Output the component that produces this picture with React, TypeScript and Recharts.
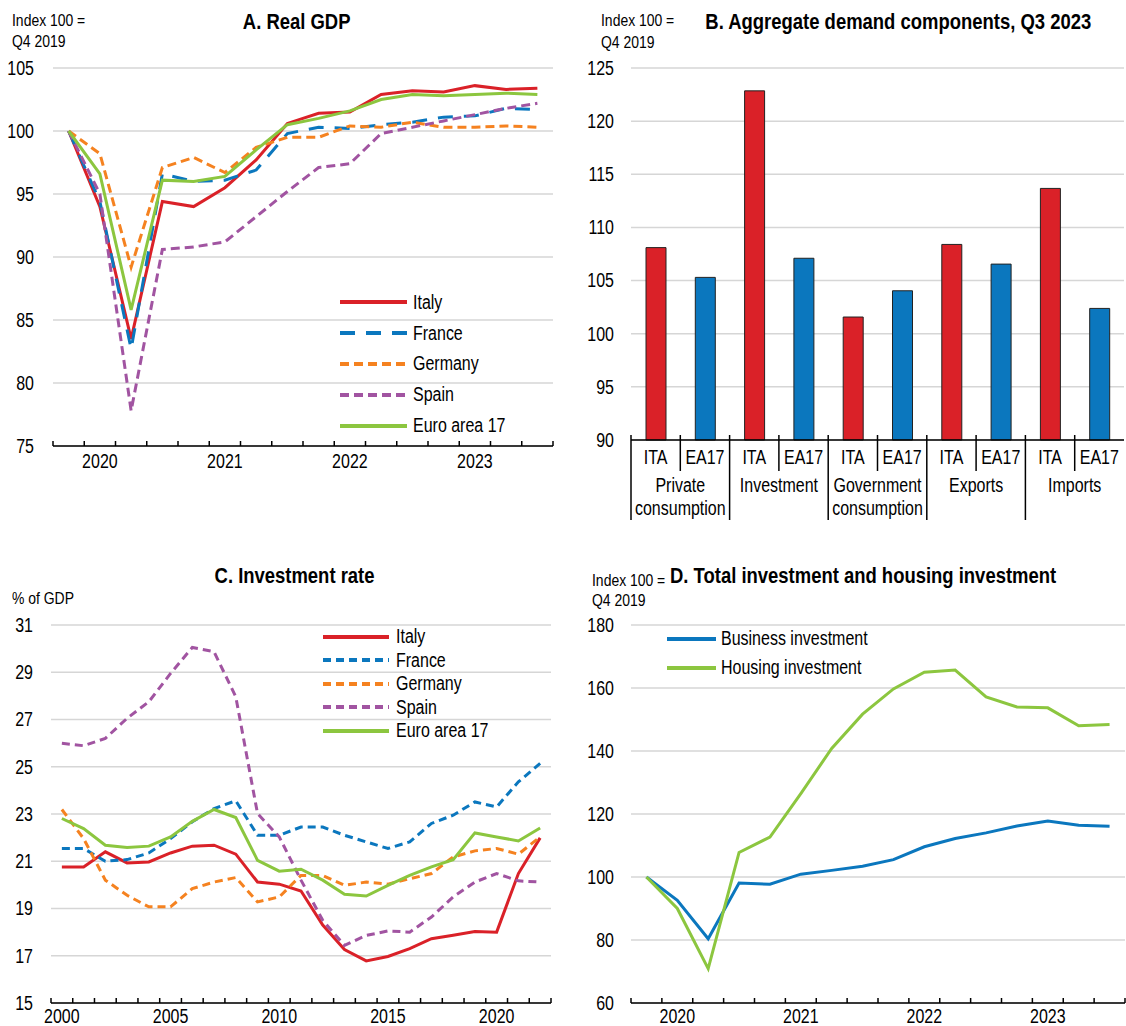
import React from 'react'
import { Bar, BarChart, CartesianGrid, Cell, Legend, Line, LineChart, XAxis, YAxis } from 'recharts'

// No Arial Narrow here: Liberation Sans squeezed horizontally gives the same look
const FONT = "'Liberation Sans', Arial, sans-serif"
const SQUEEZE = 0.82
const RED = '#DA2128'
const BLUE = '#0B77BE'
const ORANGE = '#F58220'
const PURPLE = '#A154A1'
const GREEN = '#8CC63F'
const GRID = '#D6D6D6'

// Panel A and D: quarters
const quarters = [
	'Q4 2019', 'Q1 2020', 'Q2 2020', 'Q3 2020', 'Q4 2020', 'Q1 2021', 'Q2 2021', 'Q3 2021',
	'Q4 2021', 'Q1 2022', 'Q2 2022', 'Q3 2022', 'Q4 2022', 'Q1 2023', 'Q2 2023', 'Q3 2023',
]

// A. Real GDP
const gdpItaly = [100, 94.0, 83.5, 94.4, 94.0, 95.5, 97.7, 100.6, 101.4, 101.5, 102.9, 103.2, 103.1, 103.6, 103.3, 103.4]
const gdpFrance = [100, 94.4, 82.7, 96.6, 96.0, 96.1, 96.9, 99.8, 100.3, 100.2, 100.5, 100.7, 101.1, 101.2, 101.8, 101.7]
const gdpGermany = [100, 98.2, 89.2, 97.1, 97.9, 96.7, 98.7, 99.5, 99.5, 100.4, 100.3, 100.7, 100.3, 100.3, 100.4, 100.3]
const gdpSpain = [100, 95.0, 77.8, 90.6, 90.8, 91.2, 93.2, 95.2, 97.1, 97.4, 99.8, 100.3, 100.8, 101.3, 101.8, 102.2]
const gdpEuro = [100, 96.6, 85.8, 96.1, 96.0, 96.4, 98.5, 100.5, 101.0, 101.6, 102.5, 102.9, 102.8, 102.9, 103.0, 102.9]
const gdpTicks = [75, 80, 85, 90, 95, 100, 105]

// B. Aggregate demand components
const components = [['Private', 'consumption'], ['Investment'], ['Government', 'consumption'], ['Exports'], ['Imports']]
const codes = ['ITA', 'EA17']
const demandIta = [108.1, 122.85, 101.57, 108.4, 113.67]
const demandEa17 = [105.3, 107.1, 104.04, 106.55, 102.38]
const demandTicks = [90, 95, 100, 105, 110, 115, 120, 125]

// C. Investment rate
const years = [2000, 2001, 2002, 2003, 2004, 2005, 2006, 2007, 2008, 2009, 2010, 2011, 2012, 2013, 2014, 2015, 2016, 2017, 2018, 2019, 2020, 2021, 2022]
const invItaly = [20.76, 20.76, 21.4, 20.93, 20.97, 21.35, 21.64, 21.68, 21.3, 20.12, 20.03, 19.74, 18.3, 17.26, 16.78, 16.97, 17.3, 17.72, 17.87, 18.03, 18.0, 20.48, 21.99]
const invFrance = [21.54, 21.54, 21.0, 21.07, 21.35, 21.96, 22.67, 23.23, 23.56, 22.1, 22.1, 22.45, 22.45, 22.1, 21.82, 21.54, 21.82, 22.6, 22.95, 23.51, 23.3, 24.36, 25.14]
const invGermany = [23.19, 21.96, 20.2, 19.56, 19.07, 19.07, 19.84, 20.12, 20.31, 19.28, 19.49, 20.4, 20.4, 19.98, 20.12, 20.03, 20.26, 20.48, 21.18, 21.44, 21.54, 21.3, 22.03]
const invSpain = [25.99, 25.89, 26.2, 27.05, 27.75, 28.95, 30.05, 29.87, 27.96, 23.02, 22.03, 20.2, 18.5, 17.44, 17.86, 18.05, 18.0, 18.64, 19.49, 20.12, 20.48, 20.17, 20.12]
const invEuro = [22.81, 22.38, 21.68, 21.58, 21.64, 22.03, 22.69, 23.19, 22.85, 21.04, 20.58, 20.66, 20.2, 19.6, 19.53, 19.98, 20.4, 20.76, 21.07, 22.2, 22.03, 21.86, 22.41]
const invTicks = [15, 17, 19, 21, 23, 25, 27, 29, 31]
const yearLabels = [2000, 2005, 2010, 2015, 2020]

// D. Total investment and housing investment
const business = [100, 92.6, 80.4, 98.1, 97.7, 100.9, 102.1, 103.4, 105.5, 109.6, 112.2, 114.0, 116.2, 117.8, 116.4, 116.1]
const housing = [100, 90.0, 70.9, 107.8, 112.7, 126.5, 140.8, 151.7, 159.7, 165.0, 165.7, 157.2, 154.0, 153.7, 148.0, 148.4]
const invIndexTicks = [60, 80, 100, 120, 140, 160, 180]

const gdpRows = quarters.map((q, i) => ({
	i, italy: gdpItaly[i], france: gdpFrance[i], germany: gdpGermany[i], spain: gdpSpain[i], euro: gdpEuro[i],
}))
const demandRows = components.flatMap((c, g) =>
	codes.map((code) => ({ key: `${g}-${code}`, code, group: g, value: code === 'ITA' ? demandIta[g] : demandEa17[g] })),
)
const invRows = years.map((year, i) => ({
	year, italy: invItaly[i], france: invFrance[i], germany: invGermany[i], spain: invSpain[i], euro: invEuro[i],
}))
const housingRows = quarters.map((q, i) => ({ i, business: business[i], housing: housing[i] }))

type Series = { key: string; name: string; color: string; dash?: string }
const gdpSeries: Series[] = [
	{ key: 'italy', name: 'Italy', color: RED },
	{ key: 'france', name: 'France', color: BLUE, dash: '15 11' },
	{ key: 'germany', name: 'Germany', color: ORANGE, dash: '9 5' },
	{ key: 'spain', name: 'Spain', color: PURPLE, dash: '9 5' },
	{ key: 'euro', name: 'Euro area 17', color: GREEN },
]
const invSeries: Series[] = [
	{ key: 'italy', name: 'Italy', color: RED },
	{ key: 'france', name: 'France', color: BLUE, dash: '8 5' },
	{ key: 'germany', name: 'Germany', color: ORANGE, dash: '8 5' },
	{ key: 'spain', name: 'Spain', color: PURPLE, dash: '8 5' },
	{ key: 'euro', name: 'Euro area 17', color: GREEN },
]
const housingSeries: Series[] = [
	{ key: 'business', name: 'Business investment', color: BLUE },
	{ key: 'housing', name: 'Housing investment', color: GREEN },
]

const quarterTicks = [...quarters.map((_, i) => i - 0.5), quarters.length - 0.5, ...quarters.flatMap((q, i) => (q.startsWith('Q1') ? [i] : []))]
const yearTicks = [...years.map((y) => y - 0.5), years[years.length - 1] + 0.5, ...yearLabels]

const FS = 19.5
const TITLE = 22.5
const NOTE = 17

const NarrowText = ({ x, y, anchor = 'middle', size = FS, children }: { x: number; y: number; anchor?: string; size?: number; children: React.ReactNode }) => (
	<text transform={`translate(${x} ${y}) scale(${SQUEEZE} 1)`} x={0} y={0} dy='0.35em' textAnchor={anchor as any}
		fontFamily={FONT} fontSize={size} fill='#000'>
		{children}
	</text>
)

const ValueTick = (props: any) => <NarrowText x={props.x} y={props.y} anchor='end'>{props.payload.value}</NarrowText>

const QuarterTick = (props: any) => {
	const { x, y, payload, drop = 15 } = props
	const v = payload.value
	if (!Number.isInteger(v)) return <line x1={x} x2={x} y1={y} y2={y - 5} stroke='#000' strokeWidth={1.5} />
	return <NarrowText x={x} y={y + drop}>{quarters[v].slice(3)}</NarrowText>
}

const YearTick = (props: any) => {
	const { x, y, payload } = props
	const v = payload.value
	if (!Number.isInteger(v)) return <line x1={x} x2={x} y1={y} y2={y - 5} stroke='#000' strokeWidth={1.5} />
	return <NarrowText x={x} y={y + 13}>{v}</NarrowText>
}

const B_W = 566
const B_MARGIN = { top: 68, right: 2, bottom: 4, left: 0 }
const B_YW = 71
const band = (B_W - B_MARGIN.left - B_MARGIN.right - B_YW) / demandRows.length

const DemandTick = (props: any) => {
	const { x, y, index } = props
	const row = demandRows[index]
	if (!row) return null
	const start = row.code === codes[0]
	const left = x - band / 2
	return (
		<g>
			<line x1={left} x2={left} y1={y - 5} y2={y + (start ? 80 : 31)} stroke='#000' strokeWidth={1.5} />
			<NarrowText x={x} y={y + 17}>{row.code}</NarrowText>
			{start &&
				components[row.group].map((line, k) => (
					<NarrowText key={k} x={x + band / 2} y={y + 45 + k * 23}>{line}</NarrowText>
				))}
		</g>
	)
}

const Squeezed = ({ origin = 'left', children }: { origin?: string; children: React.ReactNode }) => (
	<span style={{ display: 'inline-block', transform: `scaleX(${SQUEEZE})`, transformOrigin: origin }}>{children}</span>
)

const LineLegend = ({ items, lineWidth, rowHeight, gap }: { items: Series[]; lineWidth: number; rowHeight: number; gap: number }) => (
	<div style={{ fontFamily: FONT, fontSize: FS, color: '#000' }}>
		{items.map((s) => (
			<div key={s.key} style={{ display: 'flex', alignItems: 'center', height: rowHeight, whiteSpace: 'nowrap' }}>
				<svg width={lineWidth} height={6}>
					<line x1={0} x2={lineWidth} y1={3} y2={3} stroke={s.color} strokeWidth={4} strokeDasharray={s.dash} />
				</svg>
				<span style={{ marginLeft: gap }}><Squeezed>{s.name}</Squeezed></span>
			</div>
		))}
	</div>
)

const Label = ({ x, y, size, bold, children }: { x: number; y: number; size: number; bold?: boolean; children: React.ReactNode }) => (
	<div
		style={{
			position: 'absolute', left: x, top: y - size * 0.6, fontFamily: FONT, fontSize: size,
			fontWeight: bold ? 'bold' : 'normal', lineHeight: 1.2, whiteSpace: 'nowrap', color: '#000',
		}}
	>
		<Squeezed>{children}</Squeezed>
	</div>
)

const Centered = ({ cx, y, size, children }: { cx: number; y: number; size: number; children: React.ReactNode }) => (
	<div
		style={{
			position: 'absolute', left: cx - 300, width: 600, textAlign: 'center', top: y - size * 0.6, whiteSpace: 'nowrap',
			fontFamily: FONT, fontSize: size, fontWeight: 'bold', lineHeight: 1.2, color: '#000',
		}}
	>
		<Squeezed origin='center'>{children}</Squeezed>
	</div>
)

const yAxisProps = { axisLine: false, tickLine: false, tickSize: 0, interval: 0 as const, tick: (p: any) => <ValueTick {...p} /> }

const App = () => {
	return (
		<div style={{ position: 'absolute', left: 0, top: 0, width: 1126, height: 1026, background: '#fff' }}>
			{/* A */}
			<div style={{ position: 'absolute', left: 0, top: 0 }}>
				<LineChart width={560} height={480} data={gdpRows} margin={{ top: 68, right: 7, bottom: 4, left: 0 }}>
					<CartesianGrid vertical={false} stroke={GRID} strokeWidth={1.5} />
					<XAxis type='number' dataKey='i' domain={[-0.5, quarters.length - 0.5]} ticks={quarterTicks} interval={0}
						height={30} tickLine={false} tickSize={0} tickMargin={0} tick={(p: any) => <QuarterTick {...p} />}
						axisLine={{ stroke: '#000', strokeWidth: 1.5 }} />
					<YAxis width={53} domain={[75, 105]} ticks={gdpTicks} tickMargin={19} {...yAxisProps} />
					{gdpSeries.map((s) => (
						<Line key={s.key} dataKey={s.key} name={s.name} stroke={s.color} strokeWidth={3} strokeDasharray={s.dash}
							dot={false} type='linear' isAnimationActive={false} />
					))}
					<Legend layout='vertical' align='center' verticalAlign='middle'
						wrapperStyle={{ left: 340, top: 287, width: 'auto' }}
						content={() => <LineLegend items={gdpSeries} lineWidth={67} rowHeight={30.8} gap={6} />} />
				</LineChart>
			</div>
			<Label x={12} y={21} size={NOTE}>Index 100 =</Label>
			<Label x={12} y={42} size={NOTE}>Q4 2019</Label>
			<Centered cx={297} y={21} size={TITLE}>A. Real GDP</Centered>

			{/* B */}
			<div style={{ position: 'absolute', left: 560, top: 0 }}>
				<BarChart width={B_W} height={530} data={demandRows} margin={B_MARGIN}>
					<CartesianGrid vertical={false} stroke={GRID} strokeWidth={1.5} />
					<XAxis dataKey='key' interval={0} height={86} tickLine={false} tickSize={0} tickMargin={0}
						tick={(p: any) => <DemandTick {...p} />} axisLine={{ stroke: '#000', strokeWidth: 1.5 }} />
					<YAxis width={B_YW} domain={[90, 125]} ticks={demandTicks} tickMargin={17} {...yAxisProps} />
					<Bar dataKey='value' barSize={20} stroke='#222' strokeWidth={1} isAnimationActive={false}>
						{demandRows.map((r) => (
							<Cell key={r.key} fill={r.code === 'ITA' ? RED : BLUE} />
						))}
					</Bar>
				</BarChart>
			</div>
			<Label x={601} y={21} size={NOTE}>Index 100 =</Label>
			<Label x={601} y={43} size={NOTE}>Q4 2019</Label>
			<Centered cx={898} y={21} size={TITLE}>B. Aggregate demand components, Q3 2023</Centered>

			{/* C */}
			<div style={{ position: 'absolute', left: 0, top: 560 }}>
				<LineChart width={560} height={466} data={invRows} margin={{ top: 65, right: 9, bottom: 3, left: 0 }}>
					<CartesianGrid vertical={false} stroke={GRID} strokeWidth={1.5} />
					<XAxis type='number' dataKey='year' domain={[years[0] - 0.5, years[years.length - 1] + 0.5]} ticks={yearTicks}
						interval={0} height={20} tickLine={false} tickSize={0} tickMargin={0} tick={(p: any) => <YearTick {...p} />}
						axisLine={{ stroke: '#000', strokeWidth: 1.5 }} />
					<YAxis width={51} domain={[15, 31]} ticks={invTicks} tickMargin={18} {...yAxisProps} />
					{invSeries.map((s) => (
						<Line key={s.key} dataKey={s.key} name={s.name} stroke={s.color} strokeWidth={3} strokeDasharray={s.dash}
							dot={false} type='linear' isAnimationActive={false} />
					))}
					<Legend layout='vertical' align='center' verticalAlign='middle'
						wrapperStyle={{ left: 323, top: 65, width: 'auto' }}
						content={() => <LineLegend items={invSeries} lineWidth={66} rowHeight={23.5} gap={7} />} />
				</LineChart>
			</div>
			<Label x={12} y={599} size={NOTE}>% of GDP</Label>
			<Centered cx={295} y={575} size={TITLE}>C. Investment rate</Centered>

			{/* D */}
			<div style={{ position: 'absolute', left: 560, top: 560 }}>
				<LineChart width={566} height={466} data={housingRows} margin={{ top: 65, right: 1, bottom: 3, left: 0 }}>
					<CartesianGrid vertical={false} stroke={GRID} strokeWidth={1.5} />
					<XAxis type='number' dataKey='i' domain={[-0.5, quarters.length - 0.5]} ticks={quarterTicks} interval={0}
						height={20} tickLine={false} tickSize={0} tickMargin={0} tick={(p: any) => <QuarterTick {...p} drop={13} />}
						axisLine={{ stroke: '#000', strokeWidth: 1.5 }} />
					<YAxis width={71} domain={[60, 180]} ticks={invIndexTicks} tickMargin={17} {...yAxisProps} />
					{housingSeries.map((s) => (
						<Line key={s.key} dataKey={s.key} name={s.name} stroke={s.color} strokeWidth={3}
							dot={false} type='linear' isAnimationActive={false} />
					))}
					<Legend layout='vertical' align='center' verticalAlign='middle'
						wrapperStyle={{ left: 107, top: 64, width: 'auto' }}
						content={() => <LineLegend items={housingSeries} lineWidth={49} rowHeight={29} gap={5} />} />
				</LineChart>
			</div>
			<Label x={592} y={581} size={NOTE}>Index 100 =</Label>
			<Label x={592} y={601} size={NOTE}>Q4 2019</Label>
			<Label x={670} y={575} size={TITLE} bold>D. Total investment and housing investment</Label>
		</div>
	)
}

export default App
